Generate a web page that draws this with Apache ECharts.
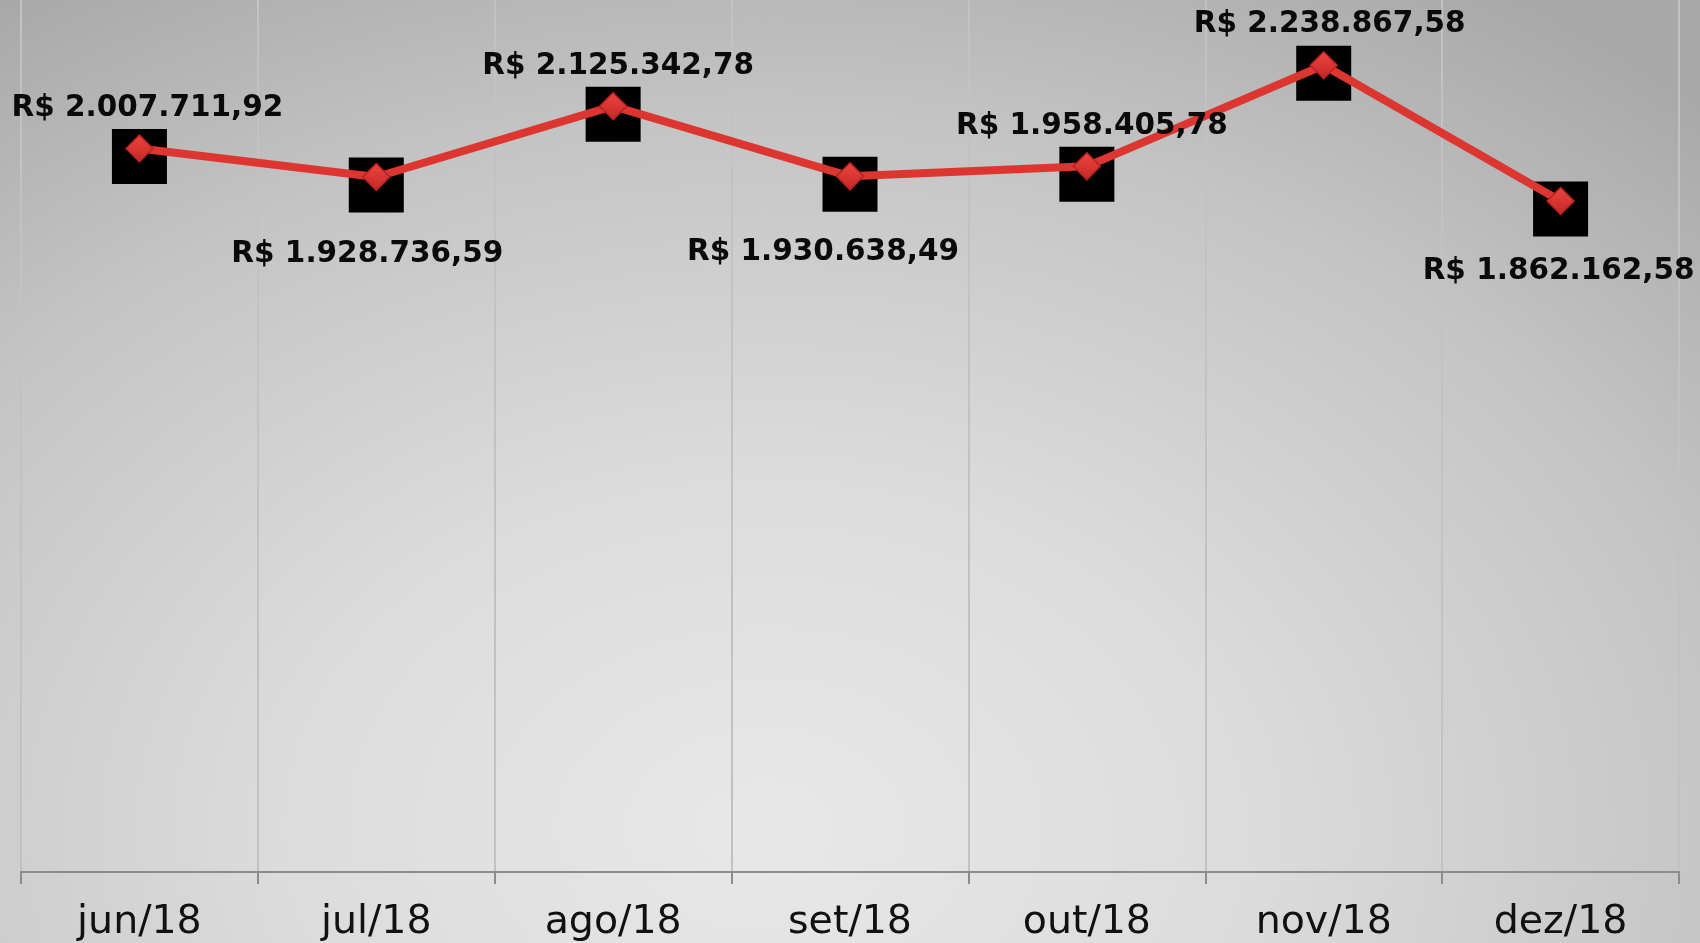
<!DOCTYPE html>
<html>
<head>
<meta charset="utf-8">
<script src="https://cdn.jsdelivr.net/npm/echarts@6/dist/echarts.min.js"></script>
<style>
  html, body { margin: 0; padding: 0; }
  #main {
    width: 1700px; height: 943px;
    background: radial-gradient(ellipse 80% 105% at 45% 88%, #e8e8e8 0%, #dcdcdc 35%, #c4c4c4 72%, #a9a9a9 100%);
  }
</style>
</head>
<body>
<div id="main"></div>
<script>
// meses e valores
const months = ['jun/18', 'jul/18', 'ago/18', 'set/18', 'out/18', 'nov/18', 'dez/18']
const values = [2007711.92, 1928736.59, 2125342.78, 1930638.49, 1958405.78, 2238867.58, 1862162.58]

// rotulos acima/abaixo do ponto, como no original
const labelOffsets = [[8, -40], [-9, 77], [5, -40], [-27, 76], [5, -40], [6, -41], [-2, 70]]

function fmtBRL (v) {
  const parts = v.toFixed(2).split('.')
  const inteiro = parts[0].replace(/\B(?=(\d{3})+(?!\d))/g, '.')
  return 'R$ ' + inteiro + ',' + parts[1]
}

const chart = echarts.init(document.getElementById('main'))

chart.setOption({
  backgroundColor: 'transparent',
  animation: false,
  grid: { left: 21, right: 21, top: 0, bottom: 71 },
  xAxis: {
    type: 'category',
    data: months,
    boundaryGap: true,
    axisLine: { lineStyle: { color: '#8c8c8c', width: 2 } },
    axisTick: { show: true, length: 12, lineStyle: { color: '#8c8c8c', width: 2 } },
    axisLabel: { color: '#111', fontSize: 39.5, fontFamily: 'DejaVu Sans', margin: 31 },
    splitLine: { show: true, lineStyle: { color: '#c2c2c2', width: 2 } }
  },
  yAxis: {
    type: 'value',
    min: 0,
    max: 2420000,
    show: false,
    splitLine: { show: false }
  },
  series: [
    {
      // quadrados pretos atras dos marcadores
      type: 'scatter',
      data: values,
      symbol: 'rect',
      symbolSize: 55,
      symbolOffset: [0, 8],
      itemStyle: { color: '#000', opacity: 1 },
      silent: true,
      z: 1
    },
    {
      type: 'line',
      data: values.map((v, i) => ({
        value: v,
        label: { offset: labelOffsets[i] }
      })),
      z: 2,
      symbol: 'diamond',
      symbolSize: 27,
      showAllSymbol: true,
      lineStyle: { color: '#dd3530', width: 8 },
      itemStyle: {
        color: new echarts.graphic.LinearGradient(0, 0, 0, 1, [
          { offset: 0, color: '#ef4540' },
          { offset: 1, color: '#c22724' }
        ]),
        borderColor: '#b52222',
        borderWidth: 1.5
      },
      label: {
        show: true,
        position: 'inside',
        formatter: p => fmtBRL(p.value),
        color: '#0a0a0a',
        fontSize: 29.5,
        fontWeight: 'bold',
        fontFamily: 'DejaVu Sans'
      }
    }
  ]
})
</script>
</body>
</html>
